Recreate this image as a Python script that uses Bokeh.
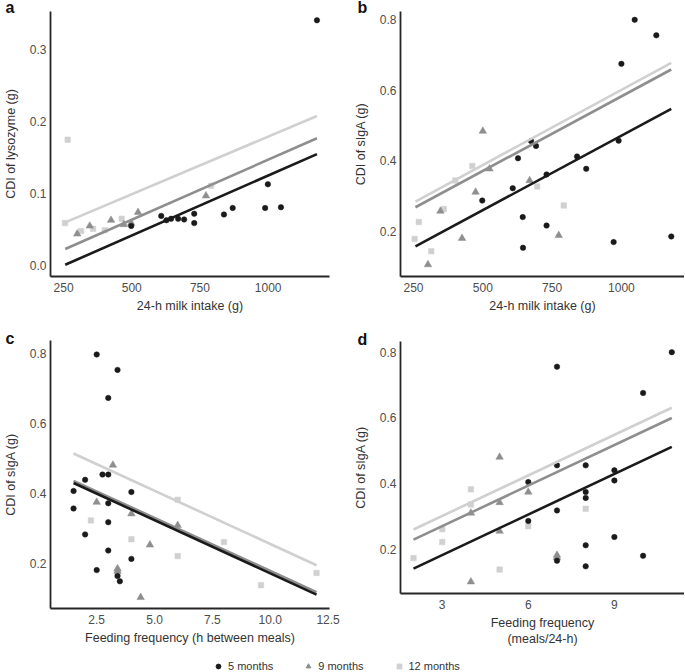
from bokeh.plotting import figure
from bokeh.layouts import column, row
from bokeh.models import Range1d, FixedTicker, NumeralTickFormatter, Legend, LegendItem, Title
from bokeh.embed import file_html
from bokeh.resources import INLINE

# ---------------- data ----------------
groups = ["5 months", "9 months", "12 months"]

# panel a: 24-h milk intake (g) vs CDI of lysozyme (g)
a_x_5 = [498, 608, 627, 644, 670, 692, 729, 729, 838, 870, 989, 999, 1047, 1179]
a_y_5 = [0.055, 0.069, 0.063, 0.065, 0.065, 0.064, 0.072, 0.059, 0.071, 0.080, 0.080, 0.113, 0.081, 0.341]
a_x_9 = [300, 346, 424, 471, 498, 523, 772]
a_y_9 = [0.044, 0.055, 0.063, 0.057, 0.059, 0.074, 0.097]
a_x_12 = [255, 265, 314, 358, 401, 463, 791]
a_y_12 = [0.059, 0.175, 0.048, 0.051, 0.049, 0.065, 0.111]
a_fit_x = [256, 1179]
a_fit_5 = [0.001, 0.155]
a_fit_9 = [0.023, 0.177]
a_fit_12 = [0.060, 0.208]

# panel b: 24-h milk intake (g) vs CDI of sIgA (g)
b_x_5 = [498, 608, 627, 644, 645, 674, 692, 730, 730, 840, 873, 972, 990, 1000, 1048, 1126, 1180]
b_y_5 = [0.287, 0.322, 0.407, 0.240, 0.153, 0.456, 0.442, 0.361, 0.216, 0.412, 0.377, 0.169, 0.457, 0.675, 0.800, 0.756, 0.185]
b_x_9 = [302, 347, 425, 474, 500, 524, 669, 774]
b_y_9 = [0.105, 0.257, 0.180, 0.311, 0.484, 0.377, 0.344, 0.188]
b_x_12 = [254, 269, 314, 359, 401, 462, 696, 792]
b_y_12 = [0.178, 0.226, 0.143, 0.263, 0.344, 0.385, 0.327, 0.273]
b_fit_x = [257, 1180]
b_fit_5 = [0.157, 0.547]
b_fit_9 = [0.268, 0.659]
b_fit_12 = [0.284, 0.678]

# panel c: feeding frequency (h between meals) vs CDI of sIgA (g)
c_x_5 = [2.5, 3.4, 3.0, 1.5, 1.5, 2.0, 2.75, 3.0, 3.0, 3.0, 3.0, 2.0, 2.5, 3.4, 3.5, 4.0, 4.0]
c_y_5 = [0.798, 0.754, 0.674, 0.408, 0.358, 0.440, 0.455, 0.455, 0.373, 0.319, 0.238, 0.284, 0.182, 0.165, 0.150, 0.405, 0.214]
c_x_9 = [3.2, 2.5, 4.0, 4.8, 6.0, 3.4, 4.4, 3.4]
c_y_9 = [0.482, 0.376, 0.343, 0.254, 0.310, 0.186, 0.104, 0.179]
c_x_12 = [2.25, 4.0, 6.0, 6.0, 8.0, 9.6, 12.0, 3.4]
c_y_12 = [0.324, 0.270, 0.383, 0.222, 0.262, 0.139, 0.174, 0.174]
c_fit_x = [1.5, 12.0]
c_fit_5 = [0.431, 0.112]
c_fit_9 = [0.437, 0.119]
c_fit_12 = [0.515, 0.196]

# panel d: feeding frequency (meals/24-h) vs CDI of sIgA (g)
d_x_5 = [11, 10, 7, 7, 8, 9, 9, 6, 8, 8, 7, 6, 9, 8, 10, 7, 8]
d_y_5 = [0.800, 0.676, 0.756, 0.456, 0.456, 0.441, 0.410, 0.405, 0.375, 0.357, 0.319, 0.287, 0.238, 0.213, 0.181, 0.166, 0.149]
d_x_9 = [5, 6, 5, 4, 5, 7, 7, 4]
d_y_9 = [0.481, 0.375, 0.343, 0.311, 0.256, 0.183, 0.176, 0.102]
d_x_12 = [4, 4, 3, 3, 2, 5, 6, 8]
d_y_12 = [0.383, 0.337, 0.262, 0.223, 0.174, 0.139, 0.271, 0.324]
d_fit_x = [2, 11]
d_fit_5 = [0.142, 0.512]
d_fit_9 = [0.230, 0.600]
d_fit_12 = [0.261, 0.631]

# ticks
milk_ticks = [250, 500, 750, 1000]
lyso_ticks = [0.0, 0.1, 0.2, 0.3]
siga_ticks = [0.2, 0.4, 0.6, 0.8]
hours_ticks = [2.5, 5.0, 7.5, 10.0, 12.5]
meals_ticks = [3, 6, 9]

# ---------------- style ----------------
FONT = "Liberation Sans"
COL = {"5 months": "#1a1a1a", "9 months": "#8e8e8e", "12 months": "#d0d0d0"}
MARK = {"5 months": ("circle", 5.5), "9 months": ("triangle", 7.5), "12 months": ("square", 5.5)}
W_LEFT, W_RIGHT = 340, 344
TOTAL_W = W_LEFT + W_RIGHT


def make_panel(width, height, bl, br, bt, bb, xr, yr, xt, yt, xfmt, yfmt,
               xlabel, ylabel, pts, fit_x, fits, ylab_standoff, letter, letter_left, letter_standoff):
    p = figure(width=width, height=height, x_range=Range1d(*xr), y_range=Range1d(*yr),
               toolbar_location=None, output_backend="svg", title=None,
               min_border_left=bl, min_border_right=br, min_border_top=bt, min_border_bottom=bb)
    p.outline_line_color = None
    p.xgrid.visible = False
    p.ygrid.visible = False
    p.background_fill_color = "white"
    p.border_fill_color = "white"

    for g in ["12 months", "9 months", "5 months"]:
        xs, ys = pts[g]
        m, s = MARK[g]
        p.scatter(xs, ys, marker=m, size=s, fill_color=COL[g], line_color=COL[g], line_width=0.5)
    for g in ["12 months", "9 months", "5 months"]:
        p.line(fit_x, fits[g], line_color=COL[g], line_width=2.6)

    for ax, ticks, fmt, lab in ((p.xaxis[0], xt, xfmt, xlabel), (p.yaxis[0], yt, yfmt, ylabel)):
        ax.ticker = FixedTicker(ticks=ticks)
        ax.formatter = NumeralTickFormatter(format=fmt)
        ax.axis_label = lab
        ax.axis_line_color = "#262626"
        ax.axis_line_width = 1.8
        ax.major_tick_line_color = None
        ax.minor_tick_line_color = None
        ax.major_tick_out = 0
        ax.major_tick_in = 0
        ax.major_label_text_font = FONT
        ax.major_label_text_font_size = "12px"
        ax.major_label_text_color = "#4d4d4d"
        ax.axis_label_text_font = FONT
        ax.axis_label_text_font_size = "12.5px"
        ax.axis_label_text_font_style = "normal"
        ax.axis_label_text_color = "#333333"
    p.xaxis[0].major_label_standoff = 6
    p.xaxis[0].axis_label_standoff = 4
    p.yaxis[0].major_label_standoff = 4
    p.yaxis[0].axis_label_standoff = ylab_standoff

    # panel letter as a left-aligned title pulled into the top-left margin
    p.add_layout(Title(text=letter, align="left", offset=letter_left - bl, standoff=letter_standoff,
                       vertical_align="bottom", text_font=FONT, text_font_size="16px",
                       text_font_style="bold", text_color="#111111"), "above")
    return p


pa = make_panel(W_LEFT, 328, 45, 11, 11, 52, (202, 1225), (-0.0153, 0.3533), milk_ticks, lyso_ticks,
                "0", "0.0", "24-h milk intake (g)", "CDI of lysozyme (g)",
                {"5 months": (a_x_5, a_y_5), "9 months": (a_x_9, a_y_9), "12 months": (a_x_12, a_y_12)},
                a_fit_x, {"5 months": a_fit_5, "9 months": a_fit_9, "12 months": a_fit_12}, 9,
                "a", 0, -8)
pb = make_panel(W_RIGHT, 328, 60, 0, 11, 52, (203, 1227.7), (0.0714, 0.8236), milk_ticks, siga_ticks,
                "0", "0.0", "24-h milk intake (g)", "CDI of sIgA (g)",
                {"5 months": (b_x_5, b_y_5), "9 months": (b_x_9, b_y_9), "12 months": (b_x_12, b_y_12)},
                b_fit_x, {"5 months": b_fit_5, "9 months": b_fit_9, "12 months": b_fit_12}, 9,
                "b", 17, -8)
pc = make_panel(W_LEFT, 331, 45, 11, 12, 51, (0.504, 12.56), (0.0723, 0.838), hours_ticks, siga_ticks,
                "0.0", "0.0", "Feeding frequency (h between meals)", "CDI of sIgA (g)",
                {"5 months": (c_x_5, c_y_5), "9 months": (c_x_9, c_y_9), "12 months": (c_x_12, c_y_12)},
                c_fit_x, {"5 months": c_fit_5, "9 months": c_fit_9, "12 months": c_fit_12}, 9,
                "c", 0, -12)
pd_ = make_panel(W_RIGHT, 331, 60, 0, 13, 66, (1.547, 11.443), (0.0664, 0.8325), meals_ticks, siga_ticks,
                 "0", "0.0", "Feeding frequency\n(meals/24-h)", "CDI of sIgA (g)",
                 {"5 months": (d_x_5, d_y_5), "9 months": (d_x_9, d_y_9), "12 months": (d_x_12, d_y_12)},
                 d_fit_x, {"5 months": d_fit_5, "9 months": d_fit_9, "12 months": d_fit_12}, 9,
                 "d", 17, -12)

# legend strip
pl = figure(width=TOTAL_W, height=13, x_range=Range1d(0, 1), y_range=Range1d(0, 1),
            toolbar_location=None, output_backend="svg", title=None,
            x_axis_type=None, y_axis_type=None, min_border=0)
pl.outline_line_color = None
pl.xgrid.visible = False
pl.ygrid.visible = False
items = []
nan = float("nan")
for g in groups:
    m, s = MARK[g]
    r = pl.scatter([nan], [nan], marker=m, size=s, fill_color=COL[g], line_color=COL[g])
    items.append(LegendItem(label=g, renderers=[r]))
leg = Legend(items=items, orientation="horizontal", location=(212, 0), padding=0, margin=0,
             spacing=29, glyph_width=12, glyph_height=12, label_standoff=4,
             label_text_font=FONT, label_text_font_size="11px", label_text_color="#333333",
             border_line_color=None, background_fill_alpha=0)
pl.add_layout(leg, "center")

layout = column(row(column(pa), column(pb)),
                row(column(pc), column(pd_)),
                pl)
open("out.html", "w").write(file_html(layout, INLINE))
